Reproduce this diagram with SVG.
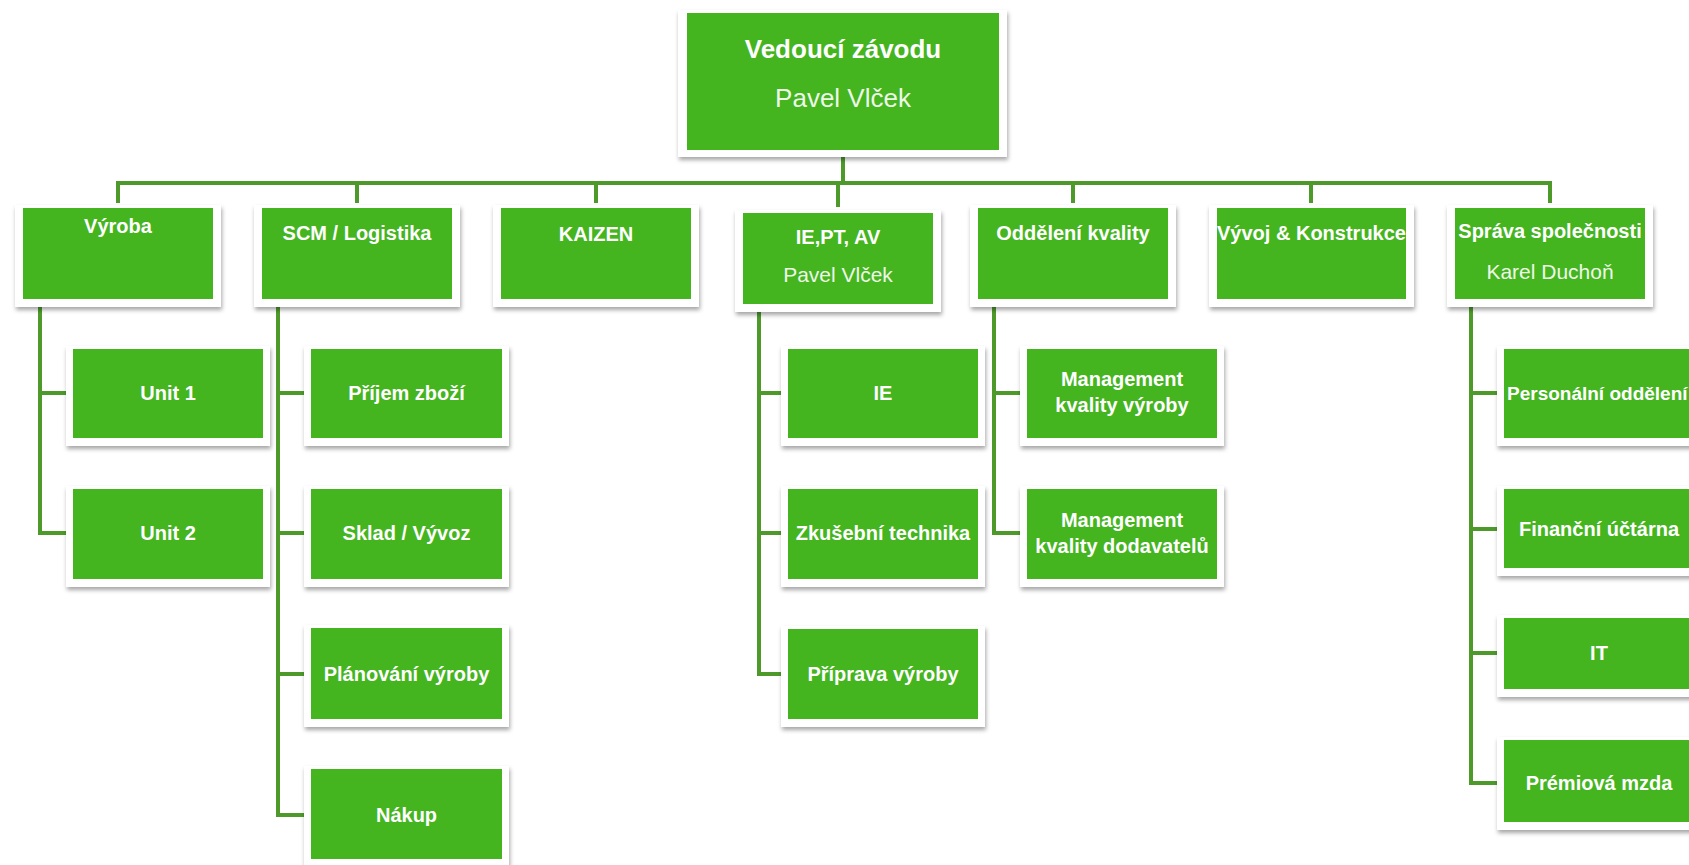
<svg xmlns="http://www.w3.org/2000/svg" width="1689" height="865" viewBox="0 0 1689 865">
  <defs>
    <filter id="shadow" x="-10%" y="-10%" width="120%" height="130%">
      <feDropShadow dx="1" dy="3" stdDeviation="2" flood-color="#000" flood-opacity="0.35"/>
    </filter>
  </defs>
  <style>
    .frame { fill: #ffffff; filter: url(#shadow); }
    .box { fill: #44b41f; }
    .t { font-family: "Liberation Sans", Arial, sans-serif; font-weight: bold; font-size: 20px; fill: #ffffff; text-anchor: middle; }
    .sub { font-family: "Liberation Sans", Arial, sans-serif; font-weight: normal; font-size: 21px; fill: #eef8e8; text-anchor: middle; }
    .head { font-size: 26px; }
    .link { fill: none; stroke: #4d9a2b; stroke-width: 4; stroke-linejoin: miter; stroke-linecap: butt; }
  </style>

  <rect width="1689" height="865" fill="#ffffff"/>

  <!-- connectors -->
  <g id="connectors">
    <path class="link" d="M843 157 V183"/>
    <path class="link" d="M118 203 V183 H1550 V203"/>
    <path class="link" d="M357 183 V203"/>
    <path class="link" d="M596 183 V203"/>
    <path class="link" d="M838 183 V207"/>
    <path class="link" d="M1073 183 V203"/>
    <path class="link" d="M1311 183 V203"/>
    <!-- Výroba -->
    <path class="link" d="M40 307 V533 H67 M40 393 H67"/>
    <!-- SCM / Logistika -->
    <path class="link" d="M278 307 V815 H304 M278 393 H304 M278 533 H304 M278 674 H304"/>
    <!-- IE, PT, AV -->
    <path class="link" d="M759 312 V674 H781 M759 393 H781 M759 533 H781"/>
    <!-- Oddělení kvality -->
    <path class="link" d="M994 307 V533 H1020 M994 393 H1020"/>
    <!-- Správa společnosti -->
    <path class="link" d="M1471 307 V783 H1497 M1471 393 H1497 M1471 529 H1497 M1471 653 H1497"/>
  </g>

  <!-- top -->
  <g id="vedouci">
    <rect class="frame" x="678" y="10" width="329" height="147"/>
    <rect class="box" x="687" y="13" width="312" height="137"/>
    <text class="t head" x="843" y="58">Vedoucí závodu</text>
    <text class="sub head" x="843" y="107">Pavel Vlček</text>
  </g>

  <!-- first level -->
  <g id="vyroba">
    <rect class="frame" x="15" y="205" width="206" height="102"/>
    <rect class="box" x="23" y="208" width="190" height="91"/>
    <text class="t" x="118" y="233">Výroba</text>
  </g>
  <g id="scm">
    <rect class="frame" x="254" y="205" width="206" height="102"/>
    <rect class="box" x="262" y="208" width="190" height="91"/>
    <text class="t" x="357" y="240">SCM / Logistika</text>
  </g>
  <g id="kaizen">
    <rect class="frame" x="493" y="205" width="206" height="102"/>
    <rect class="box" x="501" y="208" width="190" height="91"/>
    <text class="t" x="596" y="241">KAIZEN</text>
  </g>
  <g id="ie-pt-av">
    <rect class="frame" x="735" y="210" width="206" height="102"/>
    <rect class="box" x="743" y="213" width="190" height="91"/>
    <text class="t" x="838" y="244">IE,PT, AV</text>
    <text class="sub" x="838" y="282">Pavel Vlček</text>
  </g>
  <g id="kvalita">
    <rect class="frame" x="970" y="205" width="206" height="102"/>
    <rect class="box" x="978" y="208" width="190" height="91"/>
    <text class="t" x="1073" y="240">Oddělení kvality</text>
  </g>
  <g id="vyvoj">
    <rect class="frame" x="1209" y="205" width="205" height="102"/>
    <rect class="box" x="1217" y="208" width="189" height="91"/>
    <text class="t" x="1311.5" y="240">Vývoj &amp; Konstrukce</text>
  </g>
  <g id="sprava">
    <rect class="frame" x="1447" y="205" width="206" height="102"/>
    <rect class="box" x="1455" y="208" width="190" height="91"/>
    <text class="t" x="1550" y="238">Správa společnosti</text>
    <text class="sub" x="1550" y="279">Karel Duchoň</text>
  </g>

  <!-- Výroba units -->
  <g id="unit1">
    <rect class="frame" x="66" y="346" width="204" height="100"/>
    <rect class="box" x="73" y="349" width="190" height="89"/>
    <text class="t" x="168" y="400">Unit 1</text>
  </g>
  <g id="unit2">
    <rect class="frame" x="66" y="486" width="204" height="101"/>
    <rect class="box" x="73" y="489" width="190" height="90"/>
    <text class="t" x="168" y="540">Unit 2</text>
  </g>

  <!-- SCM / Logistika -->
  <g id="prijem">
    <rect class="frame" x="304" y="346" width="205" height="100"/>
    <rect class="box" x="311" y="349" width="191" height="89"/>
    <text class="t" x="406.5" y="400">Příjem zboží</text>
  </g>
  <g id="sklad">
    <rect class="frame" x="304" y="486" width="205" height="101"/>
    <rect class="box" x="311" y="489" width="191" height="90"/>
    <text class="t" x="406.5" y="540">Sklad / Vývoz</text>
  </g>
  <g id="planovani">
    <rect class="frame" x="304" y="625" width="205" height="102"/>
    <rect class="box" x="311" y="628" width="191" height="91"/>
    <text class="t" x="406.5" y="681">Plánování výroby</text>
  </g>
  <g id="nakup">
    <rect class="frame" x="304" y="766" width="205" height="101"/>
    <rect class="box" x="311" y="769" width="191" height="90"/>
    <text class="t" x="406.5" y="822">Nákup</text>
  </g>

  <!-- IE, PT, AV -->
  <g id="ie">
    <rect class="frame" x="781" y="346" width="204" height="100"/>
    <rect class="box" x="788" y="349" width="190" height="89"/>
    <text class="t" x="883" y="400">IE</text>
  </g>
  <g id="zkusebni">
    <rect class="frame" x="781" y="486" width="204" height="101"/>
    <rect class="box" x="788" y="489" width="190" height="90"/>
    <text class="t" x="883" y="540">Zkušební technika</text>
  </g>
  <g id="priprava">
    <rect class="frame" x="781" y="626" width="204" height="101"/>
    <rect class="box" x="788" y="629" width="190" height="90"/>
    <text class="t" x="883" y="681">Příprava výroby</text>
  </g>

  <!-- Oddělení kvality -->
  <g id="mgmt-vyroby">
    <rect class="frame" x="1020" y="346" width="204" height="100"/>
    <rect class="box" x="1027" y="349" width="190" height="89"/>
    <text class="t" x="1122" y="386">Management</text>
    <text class="t" x="1122" y="412">kvality výroby</text>
  </g>
  <g id="mgmt-dodavatelu">
    <rect class="frame" x="1020" y="486" width="204" height="101"/>
    <rect class="box" x="1027" y="489" width="190" height="90"/>
    <text class="t" x="1122" y="527">Management</text>
    <text class="t" x="1122" y="553">kvality dodavatelů</text>
  </g>

  <!-- Správa společnosti -->
  <g id="personalni">
    <rect class="frame" x="1497" y="346" width="204" height="100"/>
    <rect class="box" x="1504" y="349" width="190" height="89"/>
    <text class="t" x="1507" y="400" style="text-anchor:start;font-size:19px">Personální oddělení</text>
  </g>
  <g id="financni">
    <rect class="frame" x="1497" y="486" width="204" height="90"/>
    <rect class="box" x="1504" y="489" width="190" height="79"/>
    <text class="t" x="1599" y="536">Finanční účtárna</text>
  </g>
  <g id="it">
    <rect class="frame" x="1497" y="615" width="204" height="82"/>
    <rect class="box" x="1504" y="618" width="190" height="71"/>
    <text class="t" x="1599" y="660">IT</text>
  </g>
  <g id="premiova">
    <rect class="frame" x="1497" y="737" width="204" height="93"/>
    <rect class="box" x="1504" y="740" width="190" height="82"/>
    <text class="t" x="1599" y="790">Prémiová mzda</text>
  </g>
</svg>
